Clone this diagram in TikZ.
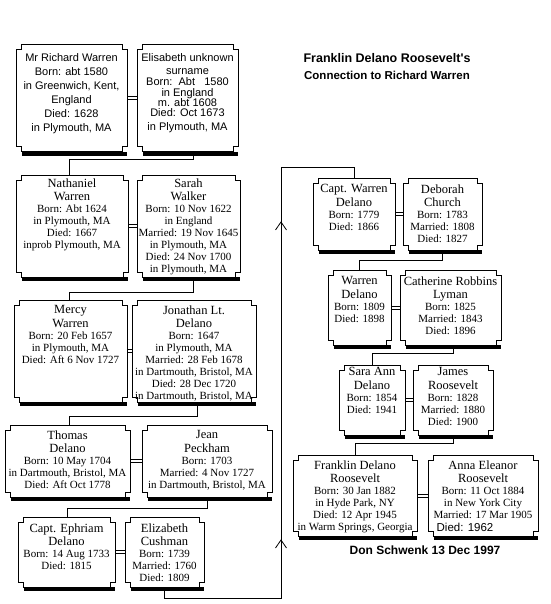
\documentclass[tikz,border=0pt]{standalone}
\usepackage{fontspec}
\setmainfont{Liberation Serif}
\newfontfamily\arialf{Liberation Sans}
\tikzset{
  bline/.style={line width=1pt, line join=miter},
  conn/.style={line width=1pt},
  ttl/.style={inner sep=0pt, font=\arialf\bfseries},
}
\newcommand\nm{\fontsize{12.5}{13.5}\selectfont}
\newcommand\dt{\fontsize{11}{12}\selectfont}
\newcommand\sans{\arialf\fontsize{11}{12}\selectfont}
% name x0 y0 x1 y1 topskip content
\newcommand\famb[7]{%
  \fill (#2+6,#5) rectangle (#4,#5+4);
  \draw[bline] (#2,#3+5) -- (#2+5,#3+5) -- (#2+5,#3) -- (#4-5,#3) -- (#4-5,#3+5) -- (#4,#3+5)
     -- (#4,#5-5) -- (#4-5,#5-5) -- (#4-5,#5) -- (#2+5,#5) -- (#2+5,#5-5) -- (#2,#5-5) -- cycle;
  \pgfmathsetmacro\fw{#4-#2}\pgfmathsetmacro\fh{#5-#3}%
  \node[inner sep=0pt,outer sep=0pt] (#1) at ({(#2+#4)/2},{(#3+#5)/2})
    {\parbox[c][\fh pt][t]{\fw pt}{\centering\vspace*{#6pt}#7}};
}
\begin{document}
\begin{tikzpicture}[x=1pt,y=-1pt]
\useasboundingbox (0,0) rectangle (550,604);

% titles
\node[ttl, font=\arialf\bfseries\fontsize{12.5}{14}\selectfont] (t1) at (387,58) {Franklin Delano Roosevelt's};
\node[ttl, font=\arialf\bfseries\fontsize{11.5}{13}\selectfont] (t2) at (387,75) {Connection to Richard Warren};
\node[ttl, font=\arialf\bfseries\fontsize{12}{14}\selectfont] (sig) at (425,550) {Don Schwenk 13 Dec 1997};

% left column
\famb{rw}{16}{45}{127}{152}{9}{\arialf\fontsize{11}{14}\selectfont Mr Richard Warren\\Born: abt 1580\\in Greenwich, Kent,\\England\\Died: 1628\\in Plymouth, MA\par}
\famb{ew}{137}{45}{238}{152}{9}{\sans Elisabeth unknown\\[1pt]surname\\[-1pt]Born:\ \ Abt\ \ \ 1580\\[-1pt]in England\\[-2pt]m. abt 1608\\[-2pt]Died: Oct 1673\\[2pt]in Plymouth, MA\par}

\famb{nw}{16}{175}{128}{277}{3.5}{\nm Nathaniel\\Warren\par\dt Born: Abt 1624\\in Plymouth, MA\\Died: 1667\\inprob Plymouth, MA\par}
\famb{sw}{137}{175}{240}{277}{3.5}{\nm Sarah\\Walker\par\dt Born: 10 Nov 1622\\in England\\Married: 19 Nov 1645\\in Plymouth, MA\\Died: 24 Nov 1700\\in Plymouth, MA\par}

\famb{mw}{14}{300}{127}{402}{5.5}{\nm Mercy\\Warren\par\dt Born: 20 Feb 1657\\in Plymouth, MA\\Died: Aft 6 Nov 1727\par}
\famb{jd}{132}{300}{256}{402}{5.5}{\nm Jonathan Lt.\\Delano\par\dt Born: 1647\\in Plymouth, MA\\Married: 28 Feb 1678\\in Dartmouth, Bristol, MA\\Died: 28 Dec 1720\\in Dartmouth, Bristol, MA\par}

\famb{td}{5}{425}{130}{497}{5.5}{\nm Thomas\\Delano\par\dt Born: 10 May 1704\\in Dartmouth, Bristol, MA\\Died: Aft Oct 1778\par}
\famb{jp}{142}{425}{272}{497}{5.5}{\nm Jean\\Peckham\par\dt Born: 1703\\Married: 4 Nov 1727\\in Dartmouth, Bristol, MA\par}

\famb{ed}{18}{517}{115}{587}{6.5}{\nm Capt. Ephriam\\Delano\par\dt Born: 14 Aug 1733\\Died: 1815\par}
\famb{ec}{125}{517}{204}{587}{6.5}{\nm Elizabeth\\Cushman\par\dt Born: 1739\\Married: 1760\\Died: 1809\par}

% right column
\famb{cw}{313}{178}{395}{250}{6.5}{\nm Capt. Warren\\Delano\par\dt Born: 1779\\Died: 1866\par}
\famb{dc}{403}{178}{482}{250}{6.5}{\nm Deborah\\Church\par\dt Born: 1783\\Married: 1808\\Died: 1827\par}

\famb{wd}{328}{270}{391}{345}{6.5}{\nm Warren\\Delano\par\dt Born: 1809\\Died: 1898\par}
\famb{cl}{400}{270}{501}{345}{6.5}{\nm Catherine Robbins\\Lyman\par\dt Born: 1825\\Married: 1843\\Died: 1896\par}

\famb{sa}{339}{365}{405}{435}{2.5}{\nm Sara Ann\\Delano\par\dt Born: 1854\\Died: 1941\par}
\famb{jr}{413}{365}{493}{435}{2.5}{\nm James\\Roosevelt\par\dt Born: 1828\\Married: 1880\\Died: 1900\par}

\famb{fd}{293}{455}{417}{536}{5.5}{\nm Franklin Delano\\Roosevelt\par\dt Born: 30 Jan 1882\\in Hyde Park, NY\\Died: 12 Apr 1945\\in Warm Springs, Georgia\par}
\famb{ae}{428}{455}{538}{536}{5.5}{\nm Anna Eleanor\\Roosevelt\par\dt Born: 11 Oct 1884\\in New York City\\Married: 17 Mar 1905\\[1pt]\hspace*{-36pt}{\arialf\fontsize{11.5}{12}\selectfont Died: 1962}\par}

% marriages
\foreach \a/\b in {rw/ew,nw/sw,mw/jd,td/jp,ed/ec,cw/dc,wd/cl,sa/jr,fd/ae}{
  \draw[conn] ([yshift=1.5pt]\a.east) -- ([yshift=1.5pt]\b.west);
  \draw[conn] ([yshift=-1.5pt]\a.east) -- ([yshift=-1.5pt]\b.west);
}

% descent
\draw[conn] ([xshift=5.5pt]ew.south) -- ++(0,8) -| ([xshift=-3pt]nw.north);
\draw[conn] ([xshift=4.5pt]sw.south) -- ++(0,15) -| ([xshift=-1.5pt]mw.north);
\draw[conn] ([xshift=3pt]jd.south) -- ++(0,14) -| ([xshift=1.5pt]td.north);
\draw[conn] (jp.south) -- ++(0,11) -| ([xshift=0.5pt]ed.north);
\coordinate (lb) at (281,598);
\coordinate (lt) at (281,167);
\draw[conn] (ec.south) |- (lb) -- (lt) -| (cw.north);
\draw[line width=0.8pt] (275.5,548) -- (281,540) -- (286.5,548);
\draw[line width=0.8pt] (275.5,230) -- (281,222) -- (286.5,230);
\draw[conn] (dc.south) -- ++(0,10) -| (wd.north);
\draw[conn] ([xshift=2.5pt]cl.south) -- ++(0,8) -| (sa.north);
\draw[conn] (jr.south) -- ++(0,8) -| (fd.north);
\end{tikzpicture}
\end{document}
